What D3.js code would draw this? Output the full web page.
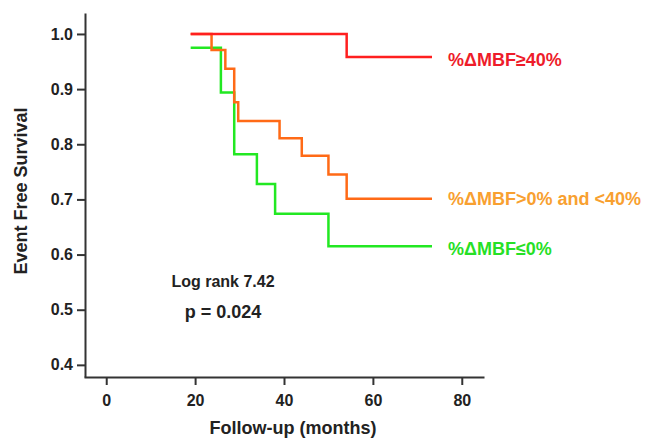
<!DOCTYPE html>
<html>
<head>
<meta charset="utf-8">
<script src="https://d3js.org/d3.v7.min.js"></script>
<style>
  body { margin: 0; background: #fff; }
  text { font-family: Arial, "Liberation Sans", sans-serif; font-weight: bold; }
</style>
</head>
<body>
<div id="chart"></div>
<script>
// Kaplan-Meier steps (months, survival after the step)
var redTimes = [19, 54.1, 73.3];
var redSurv = [1.0, 0.958, 0.958];
var orangeTimes = [19, 23.7, 26.8, 28.8, 29.7, 39, 44, 50, 54.1, 73.3];
var orangeSurv = [1.0, 0.971, 0.937, 0.876, 0.842, 0.811, 0.779, 0.745, 0.701, 0.701];
var greenTimes = [19, 25.8, 28.8, 33.9, 38, 50, 73.3];
var greenSurv = [0.975, 0.894, 0.782, 0.728, 0.674, 0.615, 0.615];

var xTicks = [0, 20, 40, 60, 80];
var yTicks = [0.4, 0.5, 0.6, 0.7, 0.8, 0.9, 1.0];

var groupNames = ["%ΔMBF≥40%", "%ΔMBF>0% and <40%", "%ΔMBF≤0%"];
var lineColors = ["#ff1f1f", "#ff6a16", "#22e822"];
var labelColors = ["#ee1c2a", "#f8a030", "#26e026"];

var W = 660, H = 438;
var svg = d3.select("#chart").append("svg").attr("width", W).attr("height", H);

var x = d3.scaleLinear().domain([-5, 85]).range([84, 484]);
var y = d3.scaleLinear().domain([0.378, 1.038]).range([377, 13]);

// axes
var yAxis = svg.append("g")
  .attr("transform", "translate(85,0)")
  .call(d3.axisLeft(y).tickValues(yTicks).tickFormat(d3.format(".1f")).tickSize(8).tickSizeOuter(0).tickPadding(4));
var xAxis = svg.append("g")
  .attr("transform", "translate(0,377)")
  .call(d3.axisBottom(x).tickValues(xTicks).tickSize(8).tickSizeOuter(0).tickPadding(10));

[yAxis, xAxis].forEach(function(a) {
  a.attr("font-size", null).attr("font-family", null);
  a.select(".domain").attr("stroke", "#333").attr("stroke-width", 2);
  a.selectAll(".tick line").attr("stroke", "#333").attr("stroke-width", 2);
  a.selectAll(".tick text").attr("fill", "#222").style("font-size", "16px");
});

// survival curves
var series = [
  { t: redTimes, s: redSurv },
  { t: orangeTimes, s: orangeSurv },
  { t: greenTimes, s: greenSurv }
];

var line = d3.line()
  .x(function(d) { return x(d[0]); })
  .y(function(d) { return y(d[1]); })
  .curve(d3.curveStepAfter);

// draw green first, red on top like the original
[2, 1, 0].forEach(function(i) {
  var pts = series[i].t.map(function(t, j) { return [t, series[i].s[j]]; });
  svg.append("path")
    .datum(pts)
    .attr("fill", "none")
    .attr("stroke", lineColors[i])
    .attr("stroke-width", 2.5)
    .attr("d", line);
});

// group labels next to the ends of the curves
var labelY = [66, 205, 255];
groupNames.forEach(function(name, i) {
  svg.append("text")
    .attr("x", 448)
    .attr("y", labelY[i])
    .attr("fill", labelColors[i])
    .style("font-size", "18px")
    .text(name);
});

// statistics
svg.append("text")
  .attr("x", 223).attr("y", 287)
  .attr("text-anchor", "middle")
  .attr("fill", "#222")
  .style("font-size", "16px")
  .text("Log rank 7.42");
svg.append("text")
  .attr("x", 223).attr("y", 318)
  .attr("text-anchor", "middle")
  .attr("fill", "#222")
  .style("font-size", "18px")
  .text("p = 0.024");

// axis titles
svg.append("text")
  .attr("transform", "translate(26.5,191) rotate(-90)")
  .attr("text-anchor", "middle")
  .attr("fill", "#222")
  .style("font-size", "18px")
  .text("Event Free Survival");
svg.append("text")
  .attr("x", 293).attr("y", 434)
  .attr("text-anchor", "middle")
  .attr("fill", "#222")
  .style("font-size", "18px")
  .text("Follow-up (months)");
</script>
</body>
</html>
